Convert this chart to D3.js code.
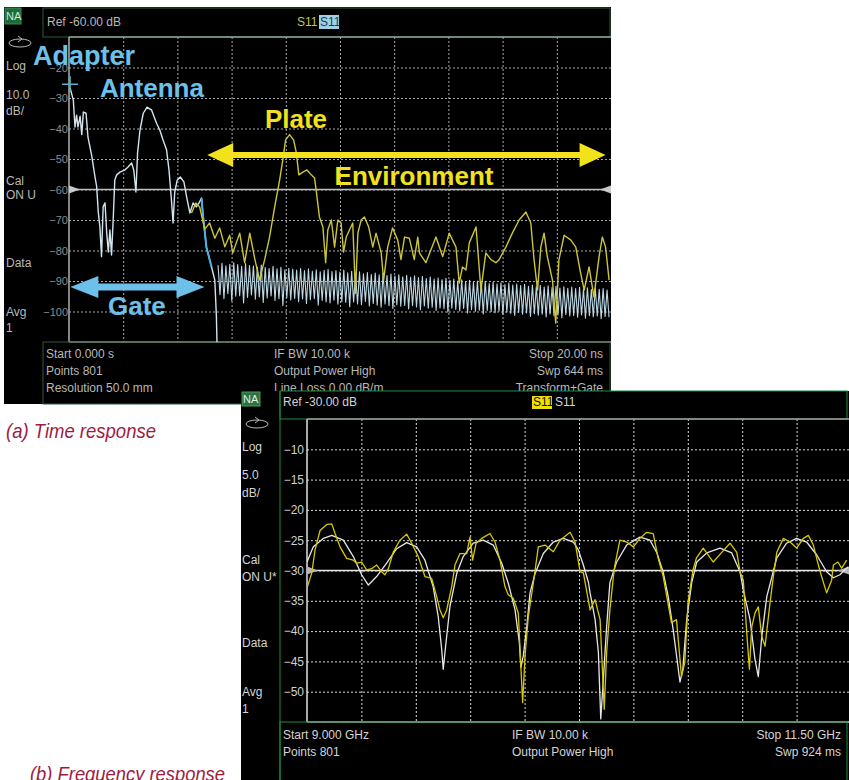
<!DOCTYPE html>
<html>
<head>
<meta charset="utf-8">
<style>
body { margin: 0; background: #fff; }
svg { display: block; }
.info { font-family: "Liberation Sans", Arial, sans-serif; font-size: 12px; fill: #d4d4d4; }
.infoA { fill: #b8b8b8; }
.grid path { display: none; }
.gridA line { stroke: #a8a8a8; stroke-dasharray: 2,2; }
.gridB line { stroke: #d8d8d8; stroke-dasharray: 2,2; }
.note { font-family: "Liberation Sans", Arial, sans-serif; font-weight: bold; }
.caption { font-family: "Liberation Sans Narrow", "Liberation Sans", Arial, sans-serif; font-style: italic; font-size: 21px; fill: #9e1b3f; }
.trace { fill: none; stroke-linejoin: round; }
</style>
</head>
<body>
<div id="chart"></div>
<script src="https://cdn.jsdelivr.net/npm/d3@7/dist/d3.min.js"></script>
<script>
// ---- data: time response (ns, dB) ----
var timeGrid = [2, 4, 6, 8, 10, 12, 14, 16, 18];
var timeTicks = [-20, -30, -40, -50, -60, -70, -80, -90, -100];
var timeRef = -60;

var gatedTrace = [[0.04,-26.7],[0.16,-30.7],[0.22,-39.5],[0.28,-35.6],[0.33,-39.5],[0.41,-36],[0.47,-42],[0.53,-34.6],
  [0.63,-35],[0.70,-42.8],[0.84,-49],[0.96,-55.9],[1.02,-59],[1.08,-67.4],[1.14,-72.3],[1.20,-82],[1.26,-65.7],
  [1.33,-64.4],[1.39,-74],[1.45,-80.5],[1.51,-73.3],[1.57,-81.5],[1.63,-70],[1.69,-56.9],[1.76,-55.2],[1.88,-54.3],
  [2.06,-53.6],[2.18,-52.6],[2.31,-51.3],[2.39,-53.6],[2.47,-60.8],[2.53,-48],[2.62,-40.5],[2.74,-35],[2.88,-33],
  [3.05,-34],[3.23,-38.3],[3.35,-40.5],[3.47,-43.8],[3.60,-47],[3.69,-53.6],[3.78,-63.4],[3.84,-71],[3.90,-61],
  [3.99,-57],[4.11,-55.9],[4.24,-57.5],[4.34,-62.4],[4.46,-67.7],[4.58,-64.4],[4.70,-65.7],[4.80,-64.4],[4.89,-62.8],
  [4.95,-69],[5.07,-78.9],[5.26,-85.4],[5.38,-89.7],[5.44,-101.8],[5.46,-110]];

// ripple after the gate edge: alternating peaks and troughs, sampled every 0.0725 ns from 5.5 ns
var rippleStart = 5.5, rippleStep = 0.0725;
var rippleTops = [-84.8,-84.2,-85.0,-84.5,-84.0,-84.6,-85.2,-84.3,-84.9,-85.1,
  -85.4,-84.8,-85.6,-85.9,-85.2,-86.0,-85.5,-86.3,-85.8,-86.1,
  -86.4,-85.9,-86.6,-86.0,-86.8,-86.3,-87.0,-86.5,-86.2,-86.9,
  -86.6,-87.1,-86.4,-87.3,-86.8,-87.5,-87.0,-87.6,-87.2,-87.9,
  -87.4,-88.0,-87.5,-88.2,-87.7,-88.4,-88.0,-88.6,-88.1,-88.8,
  -88.3,-88.9,-88.5,-89.2,-88.7,-89.4,-89.0,-89.6,-89.1,-89.8,
  -89.4,-90.0,-89.6,-90.2,-89.8,-90.4,-90.0,-90.6,-90.1,-90.8,
  -90.4,-91.0,-90.6,-91.2,-90.7,-91.3,-91.0,-91.5,-91.1,-91.7,
  -91.3,-91.8,-91.4,-92.0,-91.6,-92.1,-91.7,-92.3,-91.9,-92.4,
  -92.0,-92.5,-92.1,-92.6,-92.2,-92.8,-92.3,-92.7,-92.5,-93.0];
var rippleBottoms = [-94.5,-95.8,-94.2,-96.5,-95.0,-94.8,-97.2,-95.4,-94.6,-96.0,
  -95.2,-97.0,-95.6,-94.9,-96.4,-95.8,-98.0,-95.5,-96.2,-95.7,
  -96.8,-95.9,-97.4,-96.1,-95.8,-97.9,-96.4,-96.9,-97.2,-96.3,
  -97.6,-96.8,-97.0,-98.4,-96.9,-97.5,-97.8,-96.7,-98.2,-97.4,
  -97.9,-98.6,-97.5,-98.1,-99.0,-97.8,-98.3,-98.0,-99.2,-98.1,
  -98.5,-99.4,-98.2,-98.9,-98.6,-99.7,-98.8,-99.1,-100.2,-98.9,
  -99.3,-99.8,-99.0,-100.5,-99.4,-99.9,-99.6,-100.8,-99.7,-100.1,
  -100.4,-99.9,-101.0,-100.2,-100.6,-101.3,-100.3,-100.9,-100.5,-101.6,
  -100.7,-101.2,-100.9,-101.8,-100.8,-101.4,-101.1,-102.0,-101.0,-101.5,
  -101.3,-101.9,-101.1,-102.2,-101.4,-101.7,-101.5,-102.4,-101.6,-101.9];

var envTrace = [[4.52,-67.7],[4.68,-64.4],[4.82,-65.7],[5.01,-73],[5.19,-71],[5.38,-76],[5.56,-72.6],[5.75,-78.8],
  [5.93,-75],[6.04,-80.8],[6.30,-74.3],[6.48,-84],[6.67,-74.3],[6.85,-82.5],[7.03,-89.7],[7.22,-83],[7.40,-75.6],
  [7.59,-65.7],[7.77,-57],[7.89,-50.3],[7.99,-43.8],[8.14,-42],[8.29,-43.8],[8.39,-48],[8.48,-55.2],[8.63,-54.3],
  [8.78,-53.6],[8.94,-55.2],[9.06,-56.2],[9.12,-60.2],[9.24,-69],[9.37,-72.3],[9.47,-84],[9.55,-73.3],[9.68,-70],
  [9.80,-78.9],[9.92,-70],[10.04,-71],[10.13,-80.5],[10.23,-75.6],[10.35,-73.3],[10.47,-71],[10.57,-94],[10.66,-74.3],
  [10.78,-70],[10.90,-69],[11.06,-72.3],[11.21,-78.9],[11.33,-74.3],[11.52,-80.8],[11.61,-89.7],[11.76,-78.9],
  [11.94,-72.6],[12.13,-76.6],[12.25,-83],[12.38,-75.6],[12.56,-76],[12.74,-83],[12.87,-75.6],[12.93,-80.8],
  [13.17,-84],[13.54,-75.6],[13.79,-82],[14.03,-74.3],[14.28,-78.9],[14.40,-90.7],[14.52,-85.4],[14.65,-86.4],
  [14.77,-77.5],[15.02,-72.3],[15.20,-93],[15.38,-80.8],[15.57,-83],[15.75,-84],[15.87,-83],[16.12,-78.9],
  [16.36,-74.3],[16.61,-70],[16.86,-67.4],[17.04,-71],[17.16,-83],[17.29,-93],[17.41,-78.9],[17.53,-74.3],
  [17.65,-82],[17.84,-89.7],[17.96,-103.8],[18.08,-83],[18.27,-75],[18.52,-76.6],[18.70,-78.9],[18.88,-87.4],
  [19.01,-93],[19.19,-85.4],[19.37,-95.2],[19.56,-82],[19.68,-75.6],[19.80,-78.9],[19.93,-89.7]];

// ---- data: frequency response (GHz, dB) ----
var freqGrid = [9.25, 9.5, 9.75, 10, 10.25, 10.5, 10.75, 11, 11.25];
var freqTicks = [-10, -15, -20, -25, -30, -35, -40, -45, -50];
var freqRef = -30;

var gatedFreq = [[9.000,-28.6],[9.029,-26.1],[9.075,-24.7],[9.114,-24.2],[9.167,-25.0],[9.213,-27.7],[9.251,-30.7],
  [9.282,-32.4],[9.320,-31.0],[9.366,-28.8],[9.412,-26.4],[9.458,-25.4],[9.504,-26.1],[9.542,-28.3],[9.580,-32.7],
  [9.603,-37.6],[9.619,-43.0],[9.626,-46.3],[9.637,-42.5],[9.657,-35.9],[9.688,-30.5],[9.718,-27.7],[9.764,-25.5],
  [9.810,-25.0],[9.856,-25.8],[9.895,-28.8],[9.925,-32.1],[9.956,-36.5],[9.976,-41.9],[9.983,-46.0],[9.994,-44.1],
  [10.010,-39.2],[10.025,-33.7],[10.048,-30.5],[10.086,-27.2],[10.132,-25.3],[10.178,-24.7],[10.224,-25.3],
  [10.247,-26.6],[10.270,-29.1],[10.293,-31.9],[10.301,-33.7],[10.324,-38.1],[10.339,-43.5],[10.350,-54.5],
  [10.362,-47.9],[10.377,-39.3],[10.392,-32.0],[10.423,-28.6],[10.469,-25.8],[10.530,-24.5],[10.576,-25.0],
  [10.607,-27.0],[10.637,-30.3],[10.660,-34.3],[10.683,-39.8],[10.714,-48.4],[10.727,-46.3],[10.745,-38.1],
  [10.768,-32.0],[10.791,-28.6],[10.837,-27.1],[10.898,-26.3],[10.952,-27.1],[10.990,-30.2],[11.005,-33.2],
  [11.036,-38.1],[11.059,-44.7],[11.074,-47.5],[11.090,-40.9],[11.113,-34.3],[11.159,-27.9],[11.204,-25.5],
  [11.250,-24.7],[11.296,-25.3],[11.342,-27.4],[11.388,-30.2],[11.419,-31.2],[11.449,-30.7],[11.486,-29.4]];

var rawFreq = [[9.000,-32.9],[9.022,-30.4],[9.037,-26.6],[9.060,-23.4],[9.091,-22.4],[9.114,-22.3],[9.129,-23.9],
  [9.152,-26.1],[9.182,-28.0],[9.213,-28.3],[9.228,-28.8],[9.251,-28.6],[9.274,-29.9],[9.297,-29.7],[9.320,-29.1],
  [9.343,-30.2],[9.358,-30.7],[9.374,-29.7],[9.397,-26.9],[9.427,-25.0],[9.458,-24.0],[9.481,-25.5],[9.511,-27.7],
  [9.542,-31.0],[9.573,-31.3],[9.596,-34.3],[9.611,-36.5],[9.626,-37.8],[9.642,-36.5],[9.665,-32.7],[9.680,-29.1],
  [9.703,-27.2],[9.734,-27.2],[9.749,-24.5],[9.761,-28.3],[9.777,-25.5],[9.803,-24.7],[9.841,-23.9],[9.864,-25.3],
  [9.887,-28.3],[9.910,-32.7],[9.925,-34.0],[9.948,-34.6],[9.971,-37.0],[9.979,-43.0],[9.991,-51.8],[10.002,-44.1],
  [10.017,-37.6],[10.040,-32.1],[10.063,-26.1],[10.094,-25.8],[10.132,-26.9],[10.163,-25.0],[10.209,-23.7],
  [10.232,-25.3],[10.255,-30.2],[10.270,-30.4],[10.301,-36.5],[10.324,-34.8],[10.347,-38.1],[10.366,-52.9],
  [10.377,-43.5],[10.392,-36.5],[10.408,-31.0],[10.415,-29.1],[10.438,-25.0],[10.469,-25.3],[10.500,-26.1],
  [10.530,-24.7],[10.561,-23.7],[10.591,-23.9],[10.614,-28.0],[10.637,-31.0],[10.675,-38.6],[10.698,-38.1],
  [10.721,-47.5],[10.736,-45.2],[10.751,-35.3],[10.774,-29.9],[10.790,-27.9],[10.821,-26.3],[10.867,-28.6],
  [10.906,-27.0],[10.944,-25.5],[10.975,-27.0],[10.990,-30.2],[11.005,-31.6],[11.021,-40.3],[11.033,-46.3],
  [11.044,-39.3],[11.059,-37.0],[11.074,-36.0],[11.090,-40.9],[11.105,-42.5],[11.128,-35.3],[11.143,-31.0],
  [11.159,-27.0],[11.189,-24.7],[11.220,-25.3],[11.250,-26.3],[11.281,-24.7],[11.304,-24.2],[11.327,-25.8],
  [11.350,-29.1],[11.365,-31.0],[11.388,-33.7],[11.411,-31.6],[11.419,-29.1],[11.440,-28.6],[11.457,-29.6],[11.480,-28.3]];

var sideA = ["Log", "10.0", "dB/", "Cal", "ON U", "Data", "Avg", "1"];
var sideB = ["Log", "5.0", "dB/", "Cal", "ON U*", "Data", "Avg", "1"];
var infoA = [["Start 0.000 s", "Points 801", "Resolution 50.0 mm"],
             ["IF BW 10.00 k", "Output Power High", "Line Loss 0.00  dB/m"],
             ["Stop 20.00 ns", "Swp 644 ms", "Transform+Gate"]];
var infoB = [["Start 9.000 GHz", "Points 801"],
             ["IF BW 10.00 k", "Output Power High"],
             ["Stop 11.50 GHz", "Swp 924 ms"]];

var width = 849, height = 780;
var svg = d3.select("#chart").append("svg").attr("width", width).attr("height", height);

var xA = d3.scaleLinear().domain([0, 20]).range([69, 611]);
var yA = d3.scaleLinear().domain([-10, -110]).range([37, 342]);
var xB = d3.scaleLinear().domain([9, 11.5]).range([307, 851]);
var yB = d3.scaleLinear().domain([-5, -55]).range([419, 722]);

function box(g, x, y, w, h, stroke, fill) {
    return g.append("rect").attr("x", x).attr("y", y).attr("width", w).attr("height", h)
        .attr("fill", fill || "none").attr("stroke", stroke || "none");
}
function label(g, x, y, s, anchor, cls) {
    return g.append("text").attr("class", "info " + (cls || "")).attr("x", x).attr("y", y)
        .attr("dy", "0.35em").attr("text-anchor", anchor || "start").text(s);
}
function grid(g, cls, xs, ys, xt, yt, fontSize, color, pad) {
    var h = ys.range()[1] - ys.range()[0], w = xs.range()[1] - xs.range()[0];
    g.append("g").attr("class", "grid " + cls)
        .attr("transform", "translate(0," + ys.range()[1] + ")")
        .call(d3.axisBottom(xs).tickValues(xt).tickSize(h).tickFormat(""))
        .selectAll("line").attr("y1", -h).attr("y2", 0);
    var ax = g.append("g").attr("class", "grid " + cls)
        .attr("transform", "translate(" + xs.range()[0] + ",0)")
        .call(d3.axisLeft(ys).tickValues(yt).tickSize(-w).tickPadding(pad).tickFormat(d3.format("d")));
    ax.selectAll("text").attr("font-family", "Liberation Sans, Arial, sans-serif")
        .attr("font-size", fontSize).attr("fill", color);
}
function refMarks(g, xs, ys, ref, col, lineCol) {
    var x0 = xs.range()[0], x1 = Math.min(xs.range()[1], width), y = ys(ref);
    g.append("line").attr("x1", x0).attr("x2", x1).attr("y1", y).attr("y2", y)
        .attr("stroke", lineCol).attr("stroke-width", 1.5);
    g.append("path").attr("d", "M" + x0 + "," + (y - 4) + "L" + (x0 + 11) + "," + y + "L" + x0 + "," + (y + 4) + "Z").attr("fill", col);
    g.append("path").attr("d", "M" + x1 + "," + (y - 4) + "L" + (x1 - 11) + "," + y + "L" + x1 + "," + (y + 4) + "Z").attr("fill", col);
}
function dblArrow(g, x1, x2, y, head, hw, sw, color) {
    var p = d3.path();
    p.moveTo(x1, y); p.lineTo(x1 + head, y - hw); p.lineTo(x1 + head, y - sw);
    p.lineTo(x2 - head, y - sw); p.lineTo(x2 - head, y - hw); p.lineTo(x2, y);
    p.lineTo(x2 - head, y + hw); p.lineTo(x2 - head, y + sw); p.lineTo(x1 + head, y + sw);
    p.lineTo(x1 + head, y + hw); p.closePath();
    g.append("path").attr("d", p.toString()).attr("fill", color);
}
function ellipseIcon(g, cx, cy) {
    g.append("ellipse").attr("cx", cx).attr("cy", cy).attr("rx", 11).attr("ry", 4)
        .attr("fill", "none").attr("stroke", "#bbb").attr("stroke-width", 1);
    g.append("path").attr("d", "M" + (cx - 2) + "," + (cy - 7) + "L" + (cx + 2) + "," + (cy - 4) + "L" + (cx - 2) + "," + (cy - 1))
        .attr("fill", "none").attr("stroke", "#bbb");
}

var defs = svg.append("defs");
defs.append("clipPath").attr("id", "clipA").append("rect").attr("x", 69).attr("y", 37).attr("width", 542).attr("height", 305);
defs.append("clipPath").attr("id", "clipB").append("rect").attr("x", 307).attr("y", 419).attr("width", 542).attr("height", 303);

// ================= panel (a): time response =================
var gA = svg.append("g");
box(gA, 4, 7, 607, 397, null, "#000");
box(gA, 5, 8, 16, 16, "#3c8a52", "#1d6b38");
gA.append("text").attr("class", "info").attr("x", 6).attr("y", 16).attr("dy", "0.35em")
    .style("font-size", "11px").style("fill", "#cfe6d4").text("NA");
box(gA, 43, 8, 567, 29, "#2c5e3a");
label(gA, 47, 22, "Ref -60.00 dB", "start", "infoA");
label(gA, 297, 22, "S11", "start").style("fill", "#c9c24a");
box(gA, 319, 15, 20, 14, null, "#9fd0e6");
label(gA, 320, 22, "S11", "start").style("fill", "#1c3c52");
ellipseIcon(gA, 20, 43);
var sideAy = [66, 95, 111, 181, 195, 263, 312, 328];
sideA.forEach(function(s, i) { label(gA, 6, sideAy[i], s, "start", "infoA"); });

grid(gA, "gridA", xA, yA, timeGrid, timeTicks, 11, "#8c8c8c", 1);
gA.append("line").attr("x1", 69).attr("x2", 69).attr("y1", 37).attr("y2", 342).attr("stroke", "#b0b0b0").attr("stroke-width", 1.5);
gA.append("line").attr("x1", 69).attr("x2", 611).attr("y1", 37).attr("y2", 37).attr("stroke", "#8fa89a").attr("stroke-width", 1.5);
gA.append("line").attr("x1", 69).attr("x2", 611).attr("y1", 342).attr("y2", 342).attr("stroke", "#b0b0b0").attr("stroke-width", 1.5);
refMarks(gA, xA, yA, timeRef, "#c8c8c8", "#bdbdbd");

box(gA, 43, 342, 567, 62, "#2c5e3a");
infoA.forEach(function(col, c) {
    col.forEach(function(s, r) {
        var x = [46, 274, 603][c], anchor = ["start", "start", "end"][c];
        label(gA, x, 354 + r * 17, s, anchor, "infoA");
    });
});

var lineA = d3.line().x(function(d) { return xA(d[0]); }).y(function(d) { return yA(d[1]); });
var ripple = [];
rippleTops.forEach(function(v, i) {
    ripple.push([rippleStart + 2 * i * rippleStep, v]);
    ripple.push([rippleStart + (2 * i + 1) * rippleStep, rippleBottoms[i]]);
});
var tracesA = gA.append("g").attr("clip-path", "url(#clipA)");
tracesA.append("path").attr("class", "trace").attr("d", lineA(ripple))
    .attr("stroke", "#bcd8e4").attr("stroke-width", 1.1);
tracesA.append("path").attr("class", "trace").attr("d", lineA(gatedTrace))
    .attr("stroke", "#d2e4ec").attr("stroke-width", 1.4);
tracesA.append("path").attr("class", "trace")
    .attr("d", lineA(gatedTrace.filter(function(d) { return d[0] > 4.85 && d[0] < 5.3; })))
    .attr("stroke", "#4eaee0").attr("stroke-width", 2);
tracesA.append("path").attr("class", "trace").attr("d", lineA(envTrace))
    .attr("stroke", "#cbc53c").attr("stroke-width", 1.4);

// marker at the start of the trace
var mx = xA(gatedTrace[0][0]), my = yA(-25.5);
gA.append("path").attr("d", "M" + (mx - 8) + "," + my + "H" + (mx + 8) + "M" + mx + "," + (my - 8) + "V" + (my + 8))
    .attr("stroke", "#5fb0c8").attr("stroke-width", 1.5);

// annotations
var blue = "#6cc0ea", yellow = "#f2e21c";
dblArrow(gA, xA(0.05), xA(5.0), yA(-92), 28, 11, 3.5, blue);
dblArrow(gA, xA(5.1), xA(19.8), yA(-48.7), 26, 12, 3, yellow);
var notes = [["Adapter", -1.33, -19.3, 27, blue], ["Antenna", 1.14, -29.8, 26, blue],
             ["Gate", 1.44, -101.1, 26, blue], ["Plate", 7.23, -39.8, 26, yellow],
             ["Environment", 9.80, -58.5, 26, yellow]];
notes.forEach(function(n) {
    gA.append("text").attr("class", "note").attr("x", xA(n[1])).attr("y", yA(n[2]))
        .attr("font-size", n[3]).attr("fill", n[4]).text(n[0]);
});

// ================= panel (b): frequency response =================
var gB = svg.append("g");
box(gB, 241, 391, 608, 389, null, "#000");
box(gB, 242, 392, 18, 14, "#4c9a5c", "#2a7442");
gB.append("text").attr("class", "info").attr("x", 243).attr("y", 399).attr("dy", "0.35em")
    .style("font-size", "11px").style("fill", "#e0efe4").text("NA");
gB.append("line").attr("x1", 280).attr("x2", 280).attr("y1", 391).attr("y2", 780).attr("stroke", "#1f8a3f");
box(gB, 280, 391, 567, 28, "#1f8a3f");
label(gB, 283, 402, "Ref -30.00 dB");
box(gB, 532, 396, 20, 13, null, "#f0e000");
label(gB, 533, 402, "S11").style("fill", "#111");
label(gB, 555, 402, "S11");
ellipseIcon(gB, 257, 424);
var sideBy = [447, 475, 493, 560, 577, 643, 692, 709];
sideB.forEach(function(s, i) { label(gB, 242, sideBy[i], s); });

grid(gB, "gridB", xB, yB, freqGrid, freqTicks, 12, "#d0d0d0", 3);
gB.append("line").attr("x1", 307).attr("x2", 307).attr("y1", 419).attr("y2", 722).attr("stroke", "#e0e0e0").attr("stroke-width", 1.5);
gB.append("line").attr("x1", 307).attr("x2", 849).attr("y1", 419).attr("y2", 419).attr("stroke", "#a0a0a0").attr("stroke-width", 1.5);
gB.append("line").attr("x1", 307).attr("x2", 849).attr("y1", 722).attr("y2", 722).attr("stroke", "#c8c8c8").attr("stroke-width", 1.5);
refMarks(gB, xB, yB, freqRef, "#b8b8b8", "#e4e4e4");

box(gB, 280, 722, 567, 60, "#1f8a3f");
infoB.forEach(function(col, c) {
    col.forEach(function(s, r) {
        var x = [283, 512, 841][c], anchor = ["start", "start", "end"][c];
        label(gB, x, 735 + r * 17, s, anchor);
    });
});

var lineB = d3.line().x(function(d) { return xB(d[0]); }).y(function(d) { return yB(d[1]); });
var tracesB = gB.append("g").attr("clip-path", "url(#clipB)");
tracesB.append("path").attr("class", "trace").attr("d", lineB(gatedFreq))
    .attr("stroke", "#e6e6e6").attr("stroke-width", 1.3);
tracesB.append("path").attr("class", "trace").attr("d", lineB(rawFreq))
    .attr("stroke", "#d6c800").attr("stroke-width", 1.3);

// captions, squeezed to the condensed face of the original
svg.append("text").attr("class", "caption").attr("x", 6).attr("y", 438)
    .attr("textLength", 150).attr("lengthAdjust", "spacingAndGlyphs").text("(a) Time response");
svg.append("text").attr("class", "caption").attr("x", 30).attr("y", 781)
    .attr("textLength", 195).attr("lengthAdjust", "spacingAndGlyphs").text("(b) Frequency response");
</script>
</body>
</html>
